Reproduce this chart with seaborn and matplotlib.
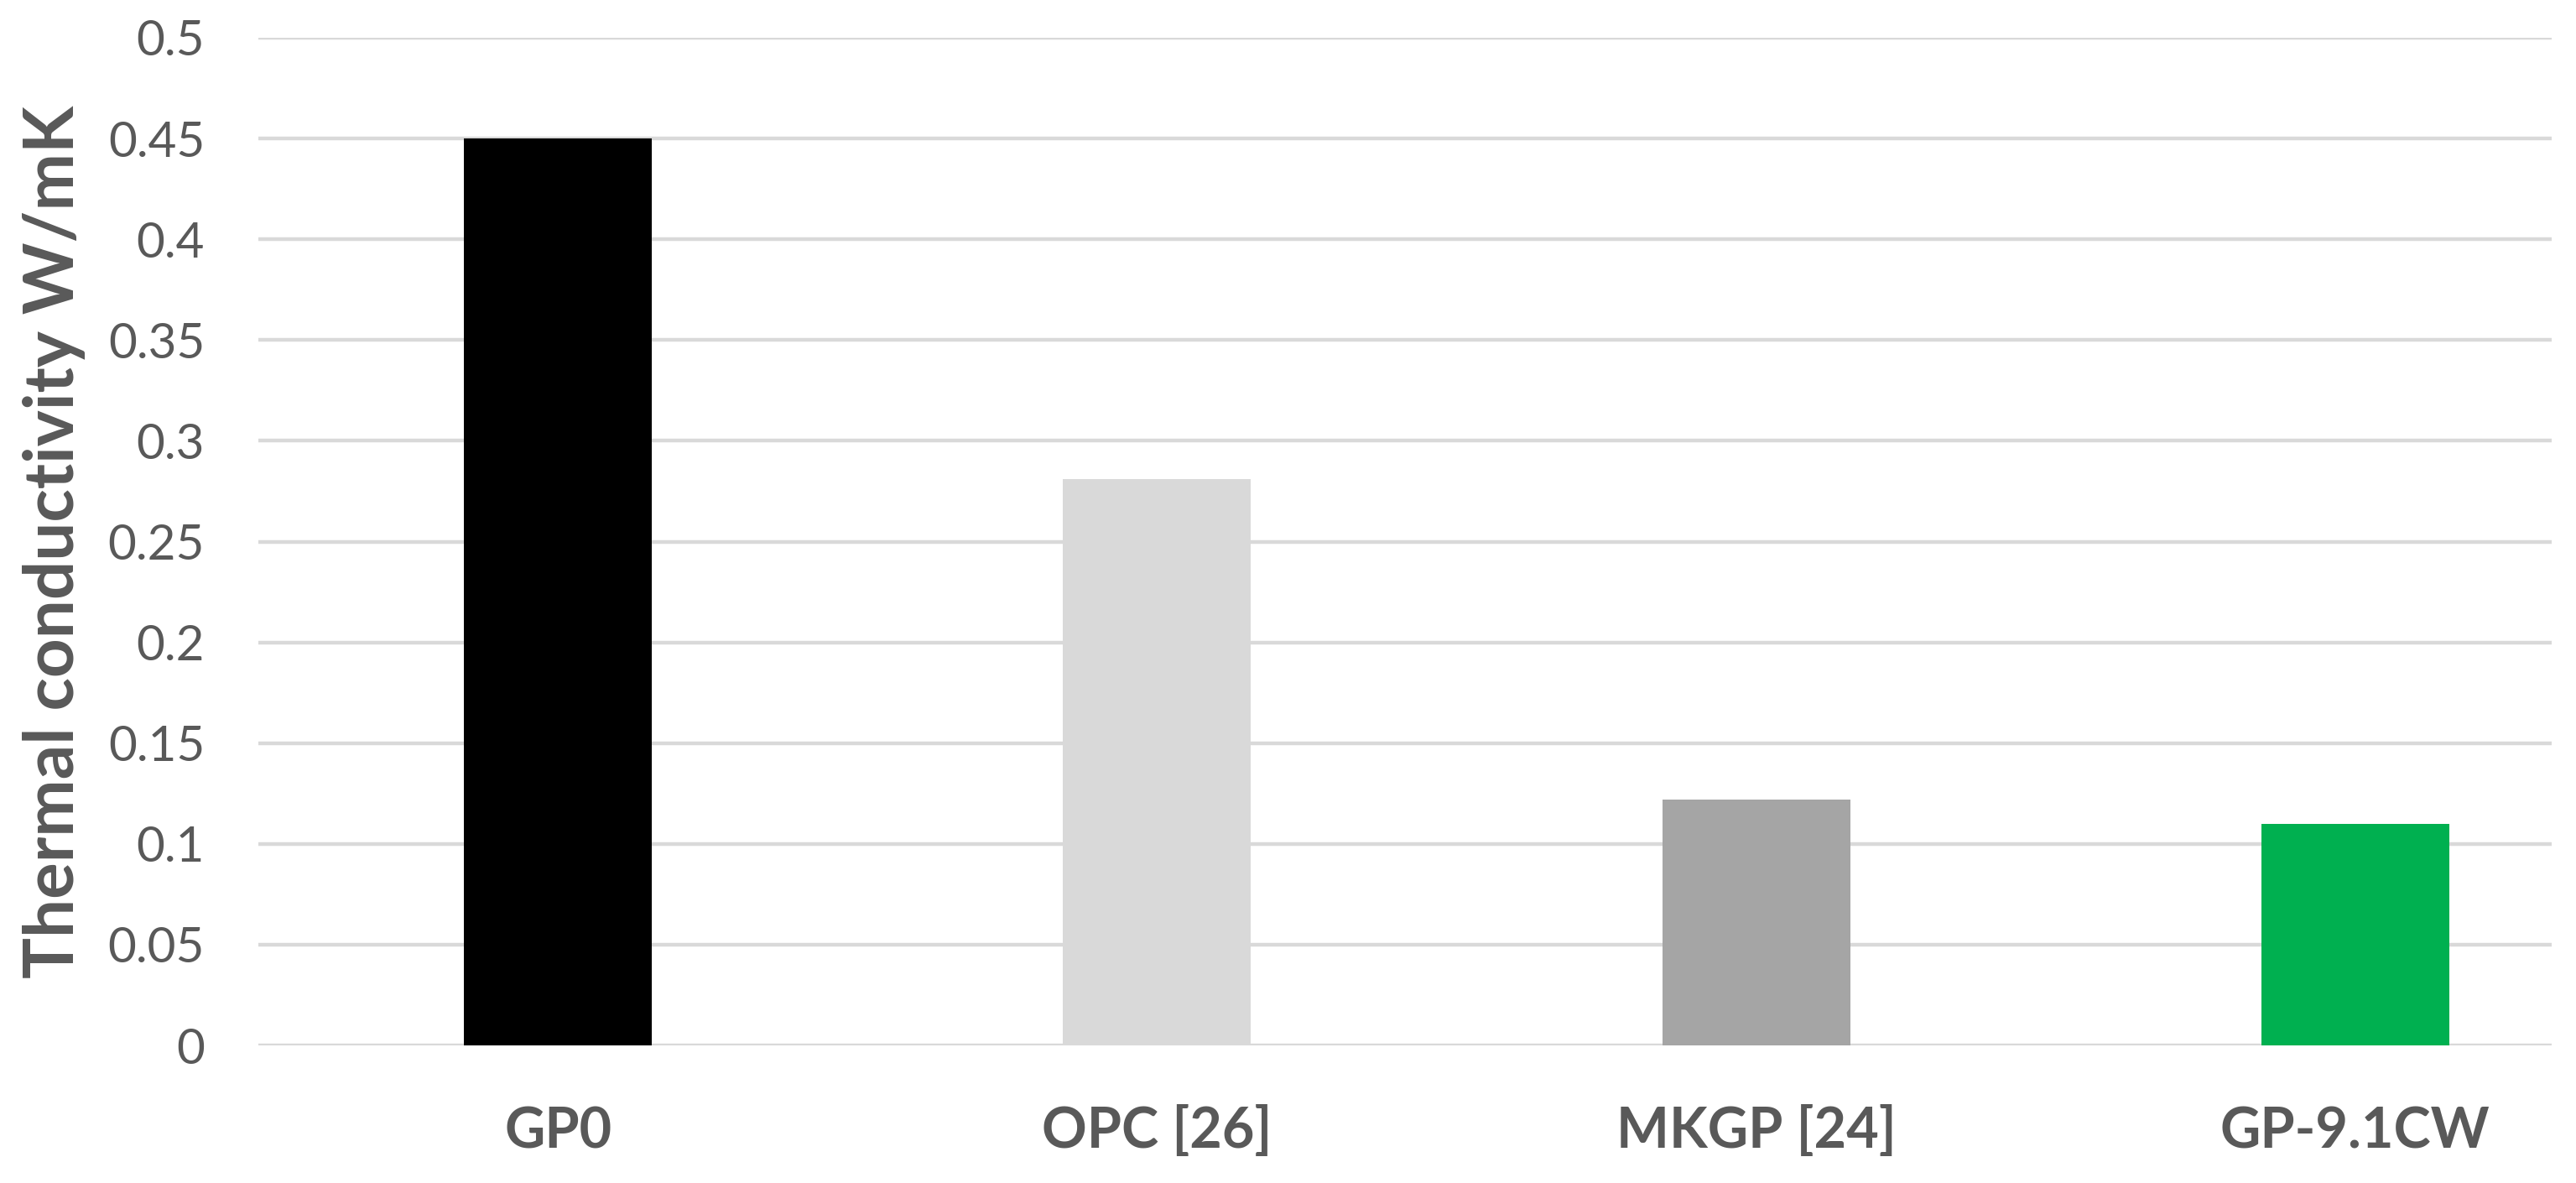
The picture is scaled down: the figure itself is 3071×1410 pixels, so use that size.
import matplotlib
matplotlib.use("Agg")
import matplotlib.pyplot as plt
import seaborn as sns
import pandas as pd

categories = ["GP0", "OPC [26]", "MKGP [24]", "GP-9.1CW"]
values = [0.45, 0.281, 0.122, 0.110]
bar_colors = ["#000000", "#D9D9D9", "#A5A5A5", "#00B050"]
yticks = [0, 0.05, 0.1, 0.15, 0.2, 0.25, 0.3, 0.35, 0.4, 0.45, 0.5]
ytick_labels = ["0", "0.05", "0.1", "0.15", "0.2", "0.25", "0.3", "0.35", "0.4", "0.45", "0.5"]
ylabel = "Thermal conductivity W/mK"

sns.set_theme(style="white")
plt.rcParams["font.family"] = ["Lato", "DejaVu Sans"]

W, H, DPI = 3071, 1410, 100
fig = plt.figure(figsize=(W / DPI, H / DPI), dpi=DPI)
ax = fig.add_axes([308 / W, 164 / H, 2734 / W, 1201 / H])

df = pd.DataFrame({"cat": categories, "val": values})
sns.barplot(data=df, x="cat", y="val", hue="cat", palette=bar_colors,
            width=0.3136, legend=False, ax=ax, saturation=1, linewidth=0)

text_color = "#595959"
ax.set_xlim(-0.5, 3.328)
ax.set_ylim(0, 0.5)
ax.set_yticks(yticks)
ax.set_yticklabels(ytick_labels)
ax.yaxis.grid(True, color="#D9D9D9", linewidth=3.2)
ax.xaxis.grid(False)
ax.set_axisbelow(True)
for s in ax.spines.values():
    s.set_visible(False)

ax.tick_params(axis="y", length=0, pad=46, labelsize=42, labelcolor=text_color)
ax.tick_params(axis="x", length=0, pad=52, labelsize=48, labelcolor=text_color)
for lbl in ax.get_xticklabels():
    lbl.set_fontweight("bold")

ax.set_xlabel("")
ax.set_ylabel(ylabel, fontsize=55, fontweight="bold", color=text_color)
ax.yaxis.set_label_coords((88 - 308) / 2734, (1246 - 646) / 1201)
ax.yaxis.label.set_va("baseline")

# scale y label so its length matches the reference (~1038 px)
fig.canvas.draw()
r = fig.canvas.get_renderer()
bb = ax.yaxis.label.get_window_extent(r)
ax.yaxis.label.set_fontsize(55 * 1038 / bb.height)

fig.savefig("out.png", dpi=DPI, facecolor="white")
